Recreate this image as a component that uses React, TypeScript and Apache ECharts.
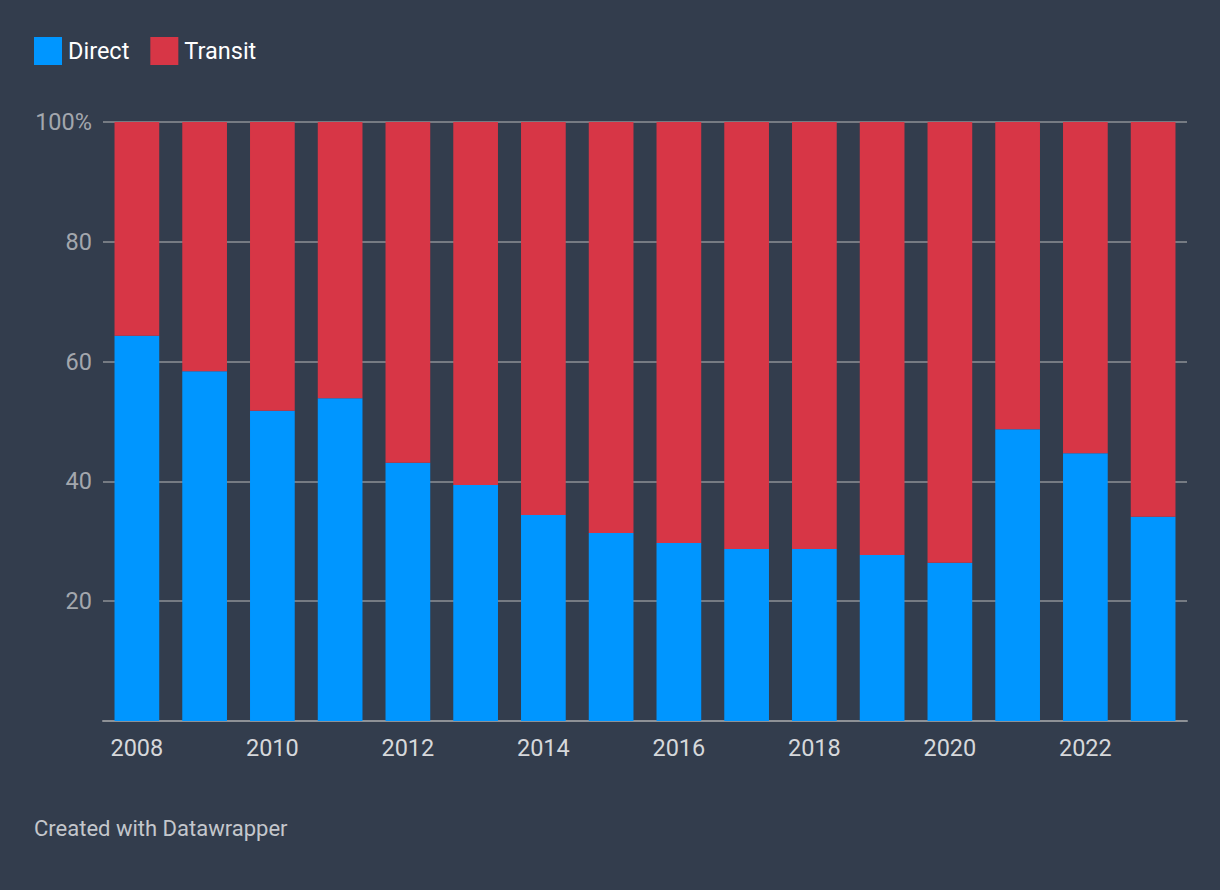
import React, { useEffect, useRef } from "react";
import * as echarts from "echarts";

const years = ["2008","2009","2010","2011","2012","2013","2014","2015","2016","2017","2018","2019","2020","2021","2022","2023"];
const direct = [64.3, 58.4, 51.8, 53.9, 43.1, 39.4, 34.4, 31.4, 29.7, 28.7, 28.7, 27.7, 26.4, 48.7, 44.7, 34.1];
const transit = [35.7, 41.6, 48.2, 46.1, 56.9, 60.6, 65.6, 68.6, 70.3, 71.3, 71.3, 72.3, 73.6, 51.3, 55.3, 65.9];
const seriesNames = ["Direct", "Transit"];
const footer = "Created with Datawrapper";

const BG = "#333d4d";
const BLUE = "#0096ff";
const RED = "#d73646";
const FONT = "Roboto, 'Noto Sans', sans-serif";

export default function App() {
  const ref = useRef<HTMLDivElement>(null);
  useEffect(() => {
    document.body.style.margin = "0";
    const chart = echarts.init(ref.current!, null, { renderer: "svg" });
    chart.setOption({
      animation: false,
      backgroundColor: BG,
      textStyle: { fontFamily: FONT },
      legend: {
        left: 34,
        top: 37,
        padding: 0,
        itemWidth: 28,
        itemHeight: 28,
        itemGap: 21,
        icon: "rect",
        textStyle: { color: "#ffffff", fontSize: 23.5, fontFamily: FONT, padding: [0, 0, 0, 1] },
        data: seriesNames,
      },
      grid: { left: 103, right: 33, top: 122, bottom: 169, containLabel: false },
      xAxis: {
        type: "category",
        data: years,
        axisTick: { show: false },
        axisLine: { show: true, lineStyle: { color: "#8e9196", width: 2 } },
        axisLabel: {
          interval: 1,
          color: "#d6d8db",
          fontSize: 23.5,
          margin: 15,
          fontFamily: FONT,
        },
      },
      yAxis: {
        type: "value",
        min: 0,
        max: 100,
        interval: 20,
        axisLine: { show: false },
        axisTick: { show: false },
        splitLine: { lineStyle: { color: "#8e9196", width: 1.5 } },
        axisLabel: {
          color: "#a3a7ad",
          fontSize: 23.5,
          margin: 11,
          fontFamily: FONT,
          formatter: (v: number) => (v === 0 ? "" : v === 100 ? "100%" : String(v)),
        },
      },
      series: [
        {
          name: seriesNames[0],
          type: "bar",
          stack: "total",
          data: direct,
          barWidth: "66%",
          itemStyle: { color: BLUE },
        },
        {
          name: seriesNames[1],
          type: "bar",
          stack: "total",
          data: transit,
          barWidth: "66%",
          itemStyle: { color: RED },
        },
      ],
      graphic: [
        {
          type: "text",
          left: 34,
          top: 817,
          style: { text: footer, fill: "#c4c7cc", fontSize: 22, fontFamily: FONT },
        },
      ],
    });
    return () => chart.dispose();
  }, []);
  return (
    <div
      ref={ref}
      style={{ position: "absolute", left: 0, top: 0, width: 1220, height: 890, background: BG }}
    />
  );
}
